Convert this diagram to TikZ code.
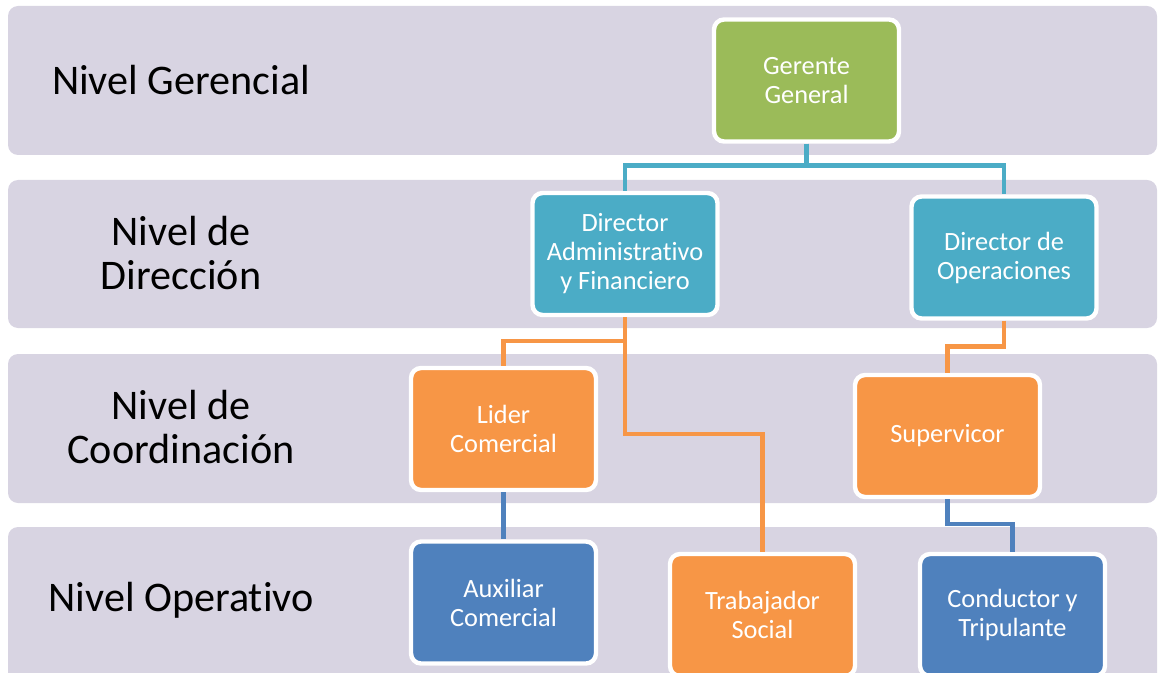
\documentclass[tikz,border=0pt]{standalone}
\usepackage{fontspec}
\setmainfont[Ligatures=NoCommon]{Carlito}
\usepackage{xcolor}
\usepackage{tikz}
\usetikzlibrary{calc}
\definecolor{colbanda}{RGB}{216,212,226}
\definecolor{colverde}{RGB}{155,187,89}
\definecolor{colceleste}{RGB}{75,172,198}
\definecolor{colnaranja}{RGB}{247,150,70}
\definecolor{colazul}{RGB}{79,129,189}

\begin{document}
\begin{tikzpicture}[x=0.02cm,y=-0.02cm,
		banda/.style={fill=colbanda,rounded corners=0.2cm},
		nivel/.style={font=\fontsize{24}{25.6}\selectfont,align=center,text=black},
		cargo/.style={draw=white,line width=2.5pt,rounded corners=0.2cm,minimum width=3.7cm,minimum height=2.44cm,align=center,text=white,font=\fontsize{15}{16.5}\selectfont,inner sep=2pt},
		linea/.style={line width=2.6pt}]
		\useasboundingbox (0,0) rectangle (1158,672);
		% bandas de nivel
		\fill[banda] (8,6) rectangle (1157,155);
		\fill[banda] (8,180) rectangle (1157,328);
		\fill[banda] (8,354) rectangle (1157,503);
		\fill[banda] (8,527) rectangle (1157,700);
			\node[nivel] (ngerencial) at (181,80) {Nivel Gerencial};
			\node[nivel] (ndireccion) at (181,253) {Nivel de\\Dirección};
			\node[nivel] (ncoordinacion) at (181,427) {Nivel de\\Coordinación};
			\node[nivel] (noperativo) at (181,600) {Nivel Operativo};
		% cargos
		\node[cargo,fill=colverde] (gerente) at (806.5,80.5) {Gerente\\General};
		\node[cargo,fill=colceleste] (diradm) at (625,254) {Director\\Administrativo\\y Financiero};
		\node[cargo,fill=colceleste] (dirop) at (1004,257.5) {Director de\\Operaciones};
		\node[cargo,fill=colnaranja] (lider) at (503.5,429) {Lider\\Comercial};
		\node[cargo,fill=colnaranja] (superv) at (947.5,436) {Supervicor};
		\node[cargo,fill=colazul] (auxiliar) at (503.5,602.5) {Auxiliar\\Comercial};
		\node[cargo,fill=colnaranja] (trabajador) at (762.5,615) {Trabajador\\Social};
		\node[cargo,fill=colazul] (conductor) at (1012.5,615) {Conductor y\\Tripulante};
		% conectores
		\draw[linea,colceleste] (gerente.south) -- ++(0,22) -| (diradm.north);
		\draw[linea,colceleste] (gerente.south) -- ++(0,22) -| (dirop.north);
		\draw[linea,colnaranja] (diradm.south) -- ++(0,24) -| (lider.north);
		\draw[linea,colnaranja] (diradm.south) -- ++(0,117) -| (trabajador.north);
		\draw[linea,colnaranja] (dirop.south) -- ++(0,26) -| (superv.north);
		\draw[linea,colazul] (lider.south) -- (auxiliar.north);
		\draw[linea,colazul] (superv.south) -- ++(0,25) -| (conductor.north);
\end{tikzpicture}
\end{document}
